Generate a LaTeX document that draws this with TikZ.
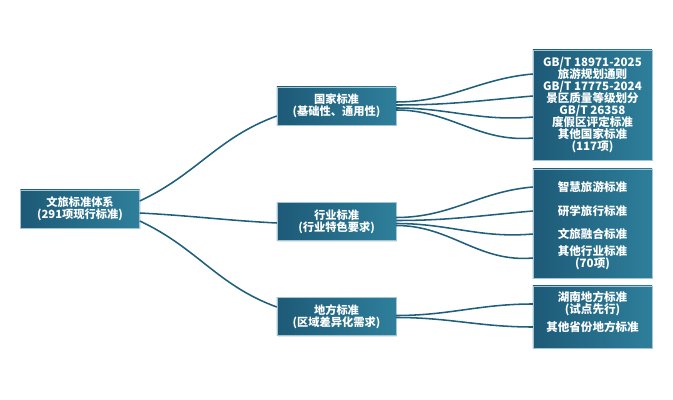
\documentclass[tikz,border=0pt]{standalone}
\usepackage{fontspec}
\newfontfamily\cjkfont{Noto Sans CJK SC}
\usepackage{xcolor}
\usepackage{tikz}
\usetikzlibrary{positioning,calc,shadows}

\definecolor{boxdark}{HTML}{1D5A77}
\definecolor{boxlight}{HTML}{2E7F9B}
\definecolor{linkc}{HTML}{1F5F7C}
\lineskiplimit=-6pt

\begin{document}
\begin{tikzpicture}[x=0.025cm, y=0.025cm,
    stdbox/.style={rectangle, left color=boxdark, right color=boxlight, draw=white!55!boxlight, line width=0.3pt,
        drop shadow={opacity=0.2, shadow xshift=1pt, shadow yshift=-1pt},
        minimum width=2.975cm, inner sep=0pt, text=white, align=center,
        font=\cjkfont\bfseries\fontsize{8}{8.6}\selectfont},
    item/.style={text=white, align=center, inner sep=0pt, font=\cjkfont\bfseries\fontsize{8.2}{8.6}\selectfont},
    link/.style={draw=linkc, line width=1.1pt}]

    \useasboundingbox (0,0) rectangle (673,-400);

    % Root
    \node [stdbox, minimum height=0.95cm] (root) at (80,-209) {文旅标准体系\\(291项现行标准)};

    % Level 1
    \node [stdbox, minimum height=0.95cm] (nat) at (336.5,-106) {国家标准\\(基础性、通用性)};
    \node [stdbox, minimum height=0.95cm] (ind) at (336.5,-221.5) {行业标准\\(行业特色要求)};
    \node [stdbox, minimum height=0.95cm] (loc) at (336.5,-316.5) {地方标准\\(区域差异化需求)};

    % Level 2 boxes
    \node [stdbox, minimum height=2.75cm, font=\cjkfont\bfseries\fontsize{8.2}{8.5}\selectfont] (natlist) at (592.5,-105)
        {GB/T 18971-2025\\旅游规划通则\\GB/T 17775-2024\\景区质量等级划分\\GB/T 26358\\度假区评定标准\\其他国家标准\\(117项)};
    \node [stdbox, minimum height=2.725cm] (indlist) at (592.5,-223.5) {};
    \node [stdbox, minimum height=1.55cm] (loclist) at (592.5,-317) {};

    % Items
    \node [item] (i1) at (592.5,-187) {智慧旅游标准};
    \node [item] (i2) at (592.5,-211) {研学旅行标准};
    \node [item] (i3) at (592.5,-234) {文旅融合标准};
    \node [item] (i4) at (592.5,-258) {其他行业标准\\(70项)};

    \node [item] (l1) at (592.5,-304) {湖南地方标准\\(试点先行)};
    \node [item] (l2) at (592.5,-327) {其他省份地方标准};

    % Root links
    \draw [link] ($(root.east)+(0,8)$) to[out=25,in=200] ($(nat.west)+(0,-10)$);
    \draw [link] ($(root.east)+(0,-4)$) to[out=-3,in=177] ($(ind.west)+(0,-1.5)$);
    \draw [link] ($(root.east)+(0,-12)$) to[out=-25,in=160] ($(loc.west)+(0,9.5)$);

    % Fan links
    \foreach \s/\e in {4/31, 1/9, -2/-12, -4/-33}
        \draw [link] ($(nat.east)+(0,\s)$) to[out=0,in=185] ($(natlist.west)+(0,\e)$);
    \foreach \n/\d in {i1/4, i2/1, i3/-2, i4/-4}
        \draw [link] ($(ind.east)+(0,\d)$) to[out=0,in=185] (indlist.west |- \n);
    \foreach \n/\d in {l1/1, l2/-1}
        \draw [link] ($(loc.east)+(0,\d)$) to[out=0,in=180] (loclist.west |- \n);

\end{tikzpicture}
\end{document}
